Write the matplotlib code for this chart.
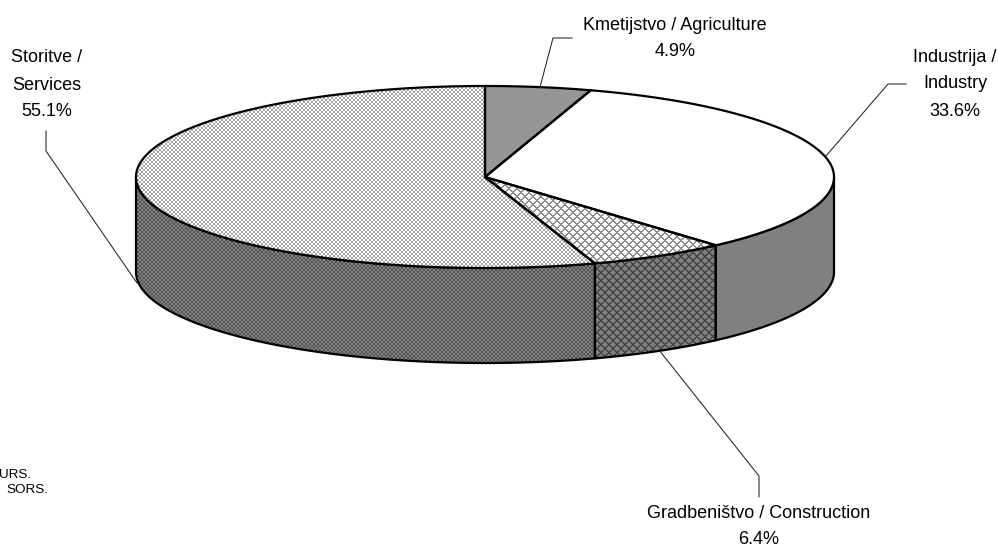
import numpy as np
import matplotlib
matplotlib.use("Agg")
import matplotlib.pyplot as plt
from matplotlib.patches import Polygon

plt.rcParams['font.family'] = ['Liberation Sans', 'DejaVu Sans']

# Data (clockwise from 12 o'clock)
sectors = ['Agriculture', 'Industry', 'Construction', 'Services']
shares = [4.9, 33.6, 6.4, 55.1]
label_lines = [['Kmetijstvo / Agriculture', '4.9%'],
               ['Industrija /', 'Industry', '33.6%'],
               ['Gradbeništvo / Construction', '6.4%'],
               ['Storitve /', 'Services', '55.1%']]
source_lines = ['URS.', 'SORS.']

W, H = 998, 548
fig = plt.figure(figsize=(W / 100, H / 100), dpi=100, facecolor='white')
ax = fig.add_axes([0, 0, 1, 1])
ax.set_xlim(0, W)
ax.set_ylim(H, 0)
ax.axis('off')

cx, cy, rx, ry, depth = 485, 177, 349, 91, 95
LW = 1.6


def pt(t, dy=0):
    t = np.radians(t)
    return np.column_stack([cx + rx * np.sin(t), cy - ry * np.cos(t) + dy])


def arc(a, b, dy=0):
    return pt(np.linspace(a, b, max(3, int(abs(b - a) * 2))), dy)


yy, xx = np.mgrid[0:H, 0:W]
lattice = ((xx + yy) % 8 < 2) | ((xx - yy) % 8 < 2)
dots = ((xx % 4 == 1) | (xx % 4 == 2)) ^ ((yy % 4 == 1) | (yy % 4 == 2))


def textured(poly, mask, fg, bg, z):
    img = np.where(mask, fg, bg).astype(float) / 255
    im = ax.imshow(img, cmap='gray', vmin=0, vmax=1, extent=(0, W, H, 0),
                   interpolation='nearest', zorder=z, aspect='auto')
    patch = Polygon(poly, closed=True, transform=ax.transData, fc='none', ec='none')
    ax.add_patch(patch)
    im.set_clip_path(patch)


def outline(poly, z):
    ax.add_patch(Polygon(poly, closed=True, fc='none', ec='black', lw=LW, zorder=z,
                         joinstyle='round'))


edges = np.concatenate([[0], np.cumsum(shares)]) / sum(shares) * 360
top_style = {
    'Agriculture': dict(color='#969696'),
    'Industry': dict(color='white'),
    'Construction': dict(mask=lattice, fg=140, bg=255),
    'Services': dict(mask=dots, fg=165, bg=255),
}
side_style = {
    'Agriculture': dict(color='#969696'),
    'Industry': dict(color='#808080'),
    'Construction': dict(mask=lattice, fg=70, bg=128),
    'Services': dict(mask=dots, fg=85, bg=128),
}


def fill(poly, style, z):
    if 'color' in style:
        ax.add_patch(Polygon(poly, closed=True, fc=style['color'], ec='none', zorder=z))
    else:
        textured(poly, style['mask'], style['fg'], style['bg'], z)


# side walls, only the front half (90..270 degrees) is visible
for name, a, b in zip(sectors, edges[:-1], edges[1:]):
    lo, hi = max(a, 90), min(b, 270)
    if lo >= hi:
        continue
    poly = np.vstack([arc(lo, hi), arc(hi, lo, depth)])
    fill(poly, side_style[name], 2)
    outline(poly, 3)

# top face
for name, a, b in zip(sectors, edges[:-1], edges[1:]):
    poly = np.vstack([[[cx, cy]], arc(a, b)])
    fill(poly, top_style[name], 4)
    outline(poly, 5)

# leader lines
leaders = [[(540, 87), (553, 38), (572, 38)],
           [(826, 156), (888, 84), (906, 84)],
           [(659, 350), (759, 476), (759, 497)],
           [(137, 283), (46, 151), (46, 131)]]
for pts in leaders:
    p = np.array(pts)
    ax.plot(p[:, 0], p[:, 1], color='#222222', lw=0.75, zorder=6)

# labels
label_pos = [(675, [25, 52]), (955, [57, 84, 111]), (759, [513, 540]), (47, [58, 85, 111])]
for lines, (x, ys) in zip(label_lines, label_pos):
    for s, y in zip(lines, ys):
        ax.text(x, y, s, ha='center', va='center', fontsize=13, color='black', zorder=7)

for s, x, y in zip(source_lines, [31, 48], [475, 490]):
    ax.text(x, y, s, ha='right', va='center', fontsize=9.7, color='black', zorder=7)

fig.savefig('out.png', dpi=100, facecolor='white')
